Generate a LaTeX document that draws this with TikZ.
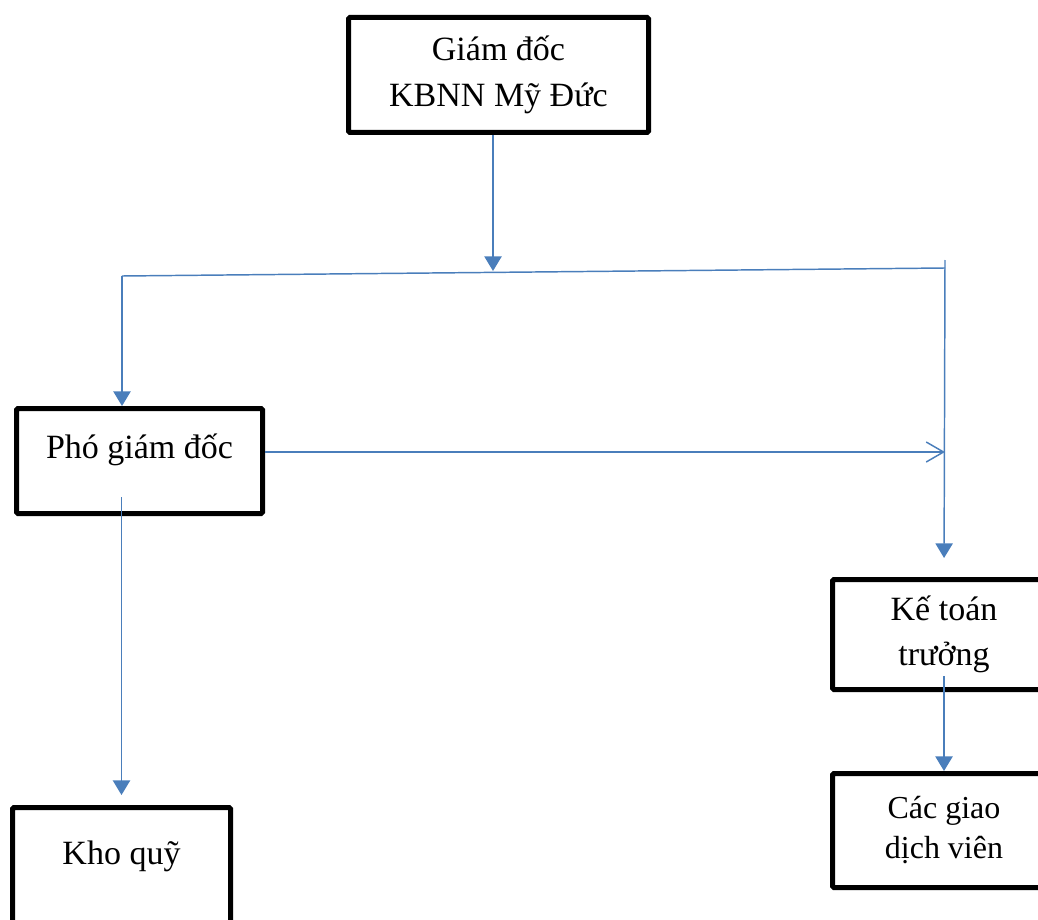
\documentclass[tikz,border=0pt]{standalone}
\usepackage{fontspec}
\setmainfont{Liberation Serif}
\usetikzlibrary{arrows.meta}
\definecolor{linkblue}{HTML}{4A7EBB}
\tikzset{
  unit box/.style={draw=black, line width=3.75pt, rounded corners=1pt, align=center, inner sep=0pt},
  big text/.style={font=\fontsize{25.5}{34}\selectfont},
  small text/.style={font=\fontsize{24}{30}\selectfont},
  link/.style={draw=linkblue, line width=1.1pt, -{Triangle[length=11pt,width=13pt]}},
  open link/.style={draw=linkblue, line width=1.1pt, -{Straight Barb[length=13pt,width=15pt]}},
}
\begin{document}
\begin{tikzpicture}[x=0.75pt,y=-0.75pt]
	\useasboundingbox (0,0) rectangle (1038,920);
	\clip (0,0) rectangle (1038,920);
	% boxes
	\node[unit box, big text, minimum width=225pt, minimum height=86.25pt] (gd) at (498.5,75) {Giám đốc\\KBNN Mỹ Đức};
	\node[unit box, big text, minimum width=184.5pt, minimum height=78.75pt, text height=20pt, text depth=24pt] (pgd) at (139.5,461) {Phó giám đốc};
	\node[unit box, big text, minimum width=163.5pt, minimum height=86.25pt, text height=20pt, text depth=21pt] (kq) at (121.5,865) {Kho quỹ};
	\node[unit box, big text, minimum width=167.25pt, minimum height=82.5pt] (kt) at (944,634.5) {Kế toán\\trưởng};
	\node[unit box, small text, minimum width=167.25pt, minimum height=85.5pt] (cg) at (944,830.5) {Các giao\\dịch viên};
	% bus line
	\coordinate (busL) at (122,276);
	\coordinate (busM) at (493,271);
	\coordinate (busR) at (945,268);
	\coordinate (busTop) at (945,260);
	\draw[linkblue, line width=1.1pt] (busL) -- (busR);
	% connectors
	\draw[link] (busM |- gd.south) -- (busM);
	\draw[link] (busL) -- (busL |- pgd.north);
	\draw[link, shorten >=14.25pt] (busTop) -- (kt.north);
	\draw[open link] (pgd.east) ++(0,-9) coordinate (pe) -- (pe -| busR);
	\draw[link, shorten >=7.5pt] (pgd.south -| kq.north) ++(0,-19) -- (kq.north);
	\draw[link] (kt.south) ++(0,-16) -- (cg.north);
\end{tikzpicture}
\end{document}
